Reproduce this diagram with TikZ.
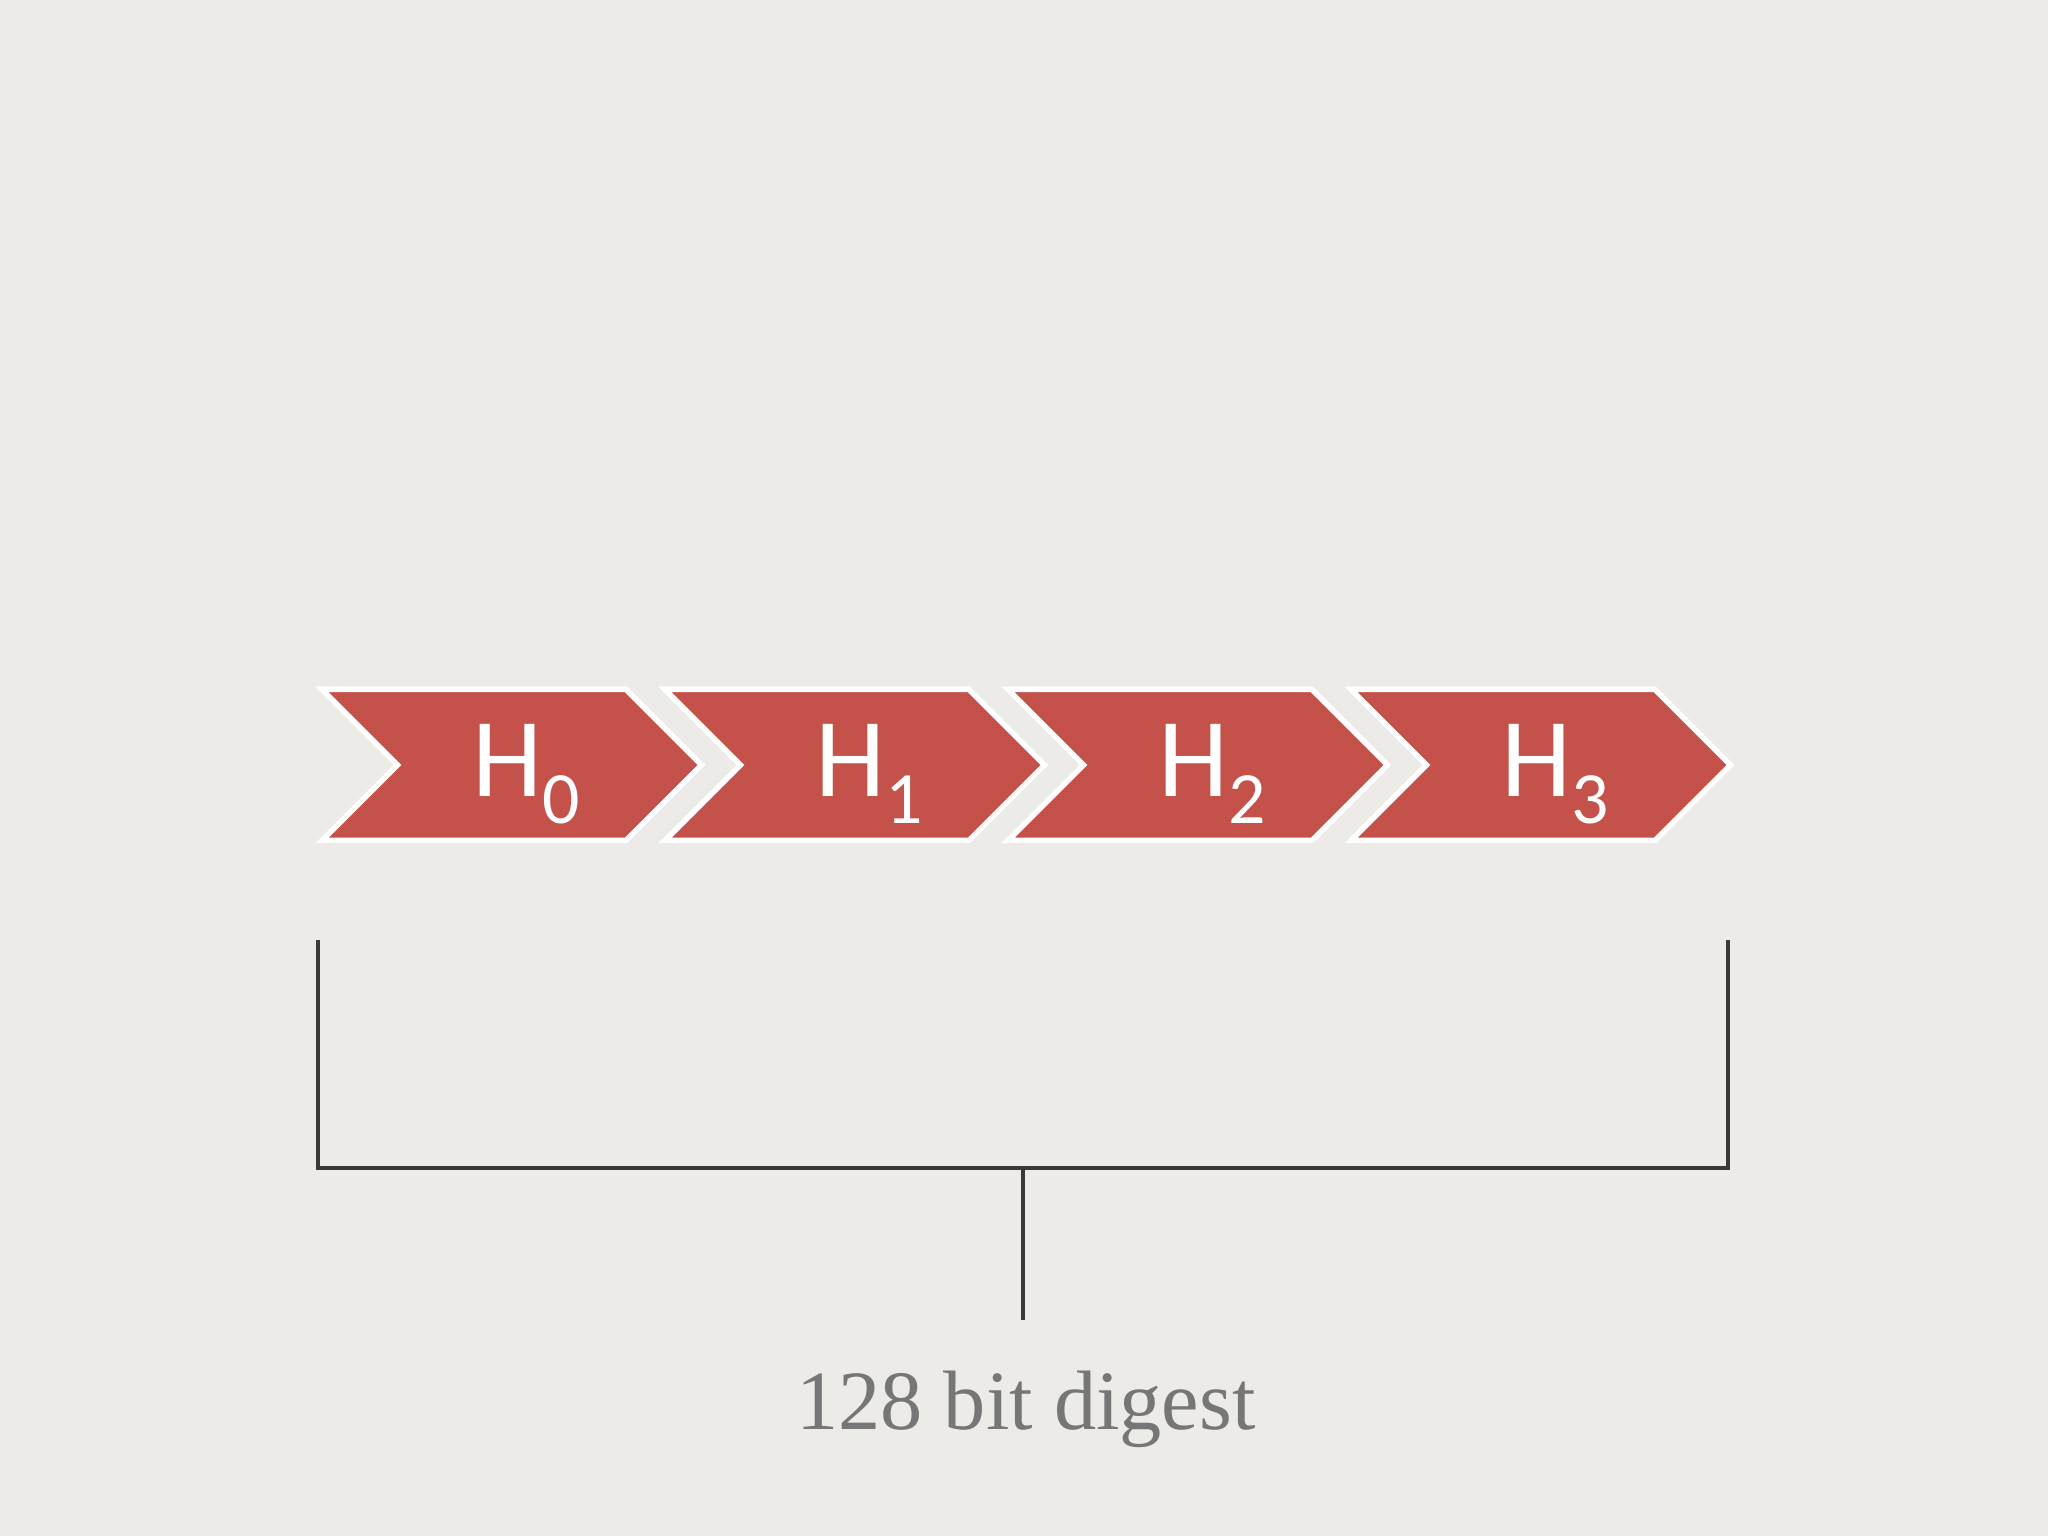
\documentclass[tikz,border=0pt]{standalone}
\usepackage{fontspec}
\usepackage{xcolor}
\usetikzlibrary{positioning}
\newfontfamily\chevfont[Numbers=Lining]{Carlito}
\newfontfamily\digestfont{Liberation Serif}
\definecolor{paper}{RGB}{237,235,232}
\definecolor{chevred}{RGB}{196,82,74}
\definecolor{bracketgray}{RGB}{58,58,58}
\definecolor{digestgray}{RGB}{118,118,118}

\begin{document}
\begin{tikzpicture}[line join=miter]
    \tikzstyle{chevron}=[fill=chevred, draw=white, line width=0.055cm]
    \tikzstyle{hlabel}=[text=white, inner sep=0pt, anchor=base, font=\chevfont\fontsize{32}{32}\selectfont]
    \tikzstyle{bracket}=[draw=bracketgray, line width=0.04cm]
    \tikzstyle{digest}=[text=digestgray, inner sep=0pt, anchor=base, font=\digestfont\fontsize{24}{24}\selectfont]

    \fill[paper] (0,0) rectangle (20.48,15.36);
    \useasboundingbox (0,0) rectangle (20.48,15.36);

    \foreach \i in {0,...,3}{
        \draw[chevron] ({3.22+3.43*\i},8.465) -- ++(3.04,0) -- ++(0.755,-0.755) -- ++(-0.755,-0.755)
            -- ++(-3.04,0) -- ++(0.755,0.755) -- cycle;
        \node[hlabel] (h\i) at ({5.26+3.43*\i},7.39) {H\raisebox{-0.27cm}{\fontsize{21}{21}\selectfont\i}};
    }

    \coordinate (bl) at (3.18,5.96);
    \coordinate (br) at (17.28,5.96);
    \coordinate (bm) at (10.23,3.68);
    \coordinate (stem) at (10.23,2.16);
    \node[digest] (digest) at (10.26,1.06) {128 bit digest};

    \draw[bracket] (bl) |- (bm) -| (br);
    \draw[bracket] (bm) -- (stem);
\end{tikzpicture}
\end{document}
